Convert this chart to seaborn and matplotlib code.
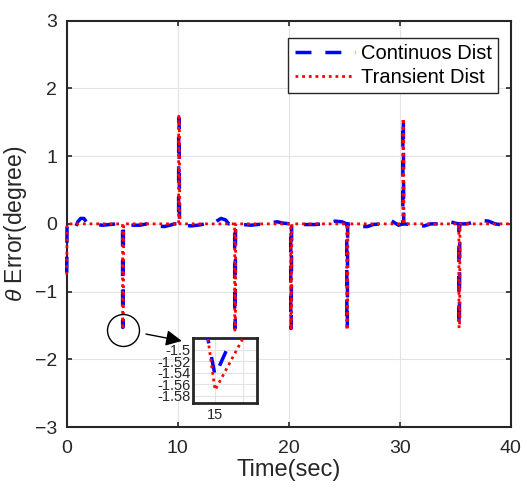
import matplotlib
matplotlib.use("Agg")
import matplotlib.pyplot as plt
import seaborn as sns
import numpy as np
import pandas as pd

# ---------------- data ----------------
t_cont = [0.0, 0.03, 0.5, 0.8, 1.0, 1.25, 1.55, 1.8, 2.2, 2.6, 3.2, 3.9, 4.5,
          5.03, 5.037, 5.05, 5.08, 5.11,
          5.4, 6.0, 6.6, 7.2, 7.9, 8.3, 8.8, 9.3, 9.7,
          10.08, 10.087, 10.10, 10.13, 10.16,
          10.5, 11.2, 11.8, 12.5, 13.1, 13.5, 13.9, 14.3, 14.6,
          15.13, 15.137, 15.15, 15.18, 15.21,
          15.9, 16.6, 17.2, 17.8, 18.4, 19.0, 19.5,
          20.18, 20.187, 20.20, 20.23, 20.26,
          20.9, 21.6, 22.4, 23.0, 23.6, 24.2, 24.8,
          25.23, 25.237, 25.25, 25.28, 25.31,
          26.0, 26.5, 27.1, 27.6, 28.3, 28.8, 29.2, 29.6, 29.9,
          30.28, 30.287, 30.30, 30.33, 30.36,
          30.9, 31.5, 32.2, 32.8, 33.5, 34.0, 34.6, 35.0,
          35.33, 35.337, 35.35, 35.38, 35.41,
          36.0, 36.9, 37.4, 38.0, 38.6, 39.4, 39.8, 40.0]
theta_cont = [-0.72, 0.0, -0.01, -0.05, 0.03, 0.08, 0.08, 0.02, 0.0, -0.01, -0.02, -0.01, 0.0,
              0.0, -1.46, -1.53, -1.46, 0.0,
              -0.02, -0.02, -0.02, 0.0, -0.01, -0.035, -0.04, -0.02, 0.0,
              0.0, 1.50, 1.565, 1.50, 0.0,
              -0.02, -0.03, -0.02, 0.0, -0.01, 0.04, 0.08, 0.06, 0.0,
              0.0, -1.48, -1.545, -1.48, 0.0,
              -0.01, -0.02, -0.01, 0.0, 0.02, 0.03, 0.01,
              0.0, -1.48, -1.545, -1.48, 0.0,
              -0.01, -0.01, -0.01, 0.0, 0.02, 0.04, 0.03,
              0.0, -1.48, -1.545, -1.48, 0.0,
              -0.01, -0.04, -0.04, -0.01, 0.0, 0.01, 0.05, 0.01, -0.02,
              0.0, 1.47, 1.535, 1.47, 0.0,
              -0.01, -0.03, -0.03, 0.0, 0.0, 0.02, 0.03, 0.01,
              0.0, -1.455, -1.52, -1.455, 0.0,
              0.0, 0.03, 0.05, 0.04, 0.0, -0.02, -0.03, -0.02]

t_trans = [0.0, 0.03,
           5.03, 5.037, 5.05, 5.10, 5.13,
           10.08, 10.087, 10.10, 10.15, 10.18,
           15.13, 15.137, 15.15, 15.20, 15.23,
           20.18, 20.187, 20.20, 20.25, 20.28,
           25.23, 25.237, 25.25, 25.30, 25.33,
           30.28, 30.287, 30.30, 30.35, 30.38,
           35.33, 35.337, 35.35, 35.40, 35.43,
           40.0]
theta_trans = [-0.75, 0.0,
               0.0, -1.47, -1.56, -1.47, 0.0,
               0.0, 1.50, 1.59, 1.50, 0.0,
               0.0, -1.48, -1.57, -1.48, 0.0,
               0.0, -1.48, -1.57, -1.48, 0.0,
               0.0, -1.48, -1.57, -1.48, 0.0,
               0.0, 1.47, 1.56, 1.47, 0.0,
               0.0, -1.45, -1.54, -1.45, 0.0,
               0.0]

series_labels = ["Continuos Dist", "Transient Dist"]
x_ticks = [0, 10, 20, 30, 40]
y_ticks = [-3, -2, -1, 0, 1, 2, 3]
inset_y_ticks = [-1.58, -1.56, -1.54, -1.52, -1.5]
inset_y_labels = ["-1.58", "-1.56", "-1.54", "-1.52", "-1.5"]
inset_x_ticks = [15.15, 15.2]
inset_x_labels = ["15", ""]

# ---------------- style ----------------
sns.set_theme(style="white")
plt.rcParams["font.family"] = ["Liberation Sans", "DejaVu Sans"]
plt.rcParams["mathtext.fontset"] = "custom"
plt.rcParams["mathtext.it"] = "Liberation Sans:italic"
plt.rcParams["mathtext.rm"] = "Liberation Sans"

AX_COL = "#262626"
GRID_COL = "#e3e3e3"

df_c = pd.DataFrame({"t": t_cont, "v": theta_cont})
df_t = pd.DataFrame({"t": t_trans, "v": theta_trans})

fig = plt.figure(figsize=(5.27, 4.92), dpi=100)
ax = fig.add_axes([0.1266, 0.1321, 0.8425, 0.8258])


def draw(a, clip=True, lwb=2.5, lwr=2.0):
    sns.lineplot(data=df_c, x="t", y="v", ax=a, sort=False, estimator=None,
                 color=(0, 0, 1), lw=lwb, label=series_labels[0])
    sns.lineplot(data=df_t, x="t", y="v", ax=a, sort=False, estimator=None,
                 color=(1, 0, 0), lw=lwr, label=series_labels[1])
    lines = a.get_lines()
    lines[-2].set_dashes((4.6, 4.0))
    lines[-1].set_dashes((1.0, 1.4))
    for ln in lines[-2:]:
        ln.set_dash_capstyle("butt")
        ln.set_clip_on(clip)
        ln.set_zorder(3)


draw(ax, clip=False)
ax.set_xlim(0, 40)
ax.set_ylim(-3, 3)
ax.set_xticks(x_ticks)
ax.set_yticks(y_ticks)
ax.grid(True, color=GRID_COL, lw=0.8)
ax.set_axisbelow(True)
for s in ax.spines.values():
    s.set_color(AX_COL)
    s.set_linewidth(1.5)
    s.set_visible(True)
    s.set_zorder(2.5)
ax.tick_params(direction="in", length=3.5, width=1.2, color=AX_COL,
               labelsize=14, labelcolor=AX_COL, pad=7,
               top=True, right=True, bottom=True, left=True)
ax.tick_params(axis="x", pad=9)
ax.set_xlabel("Time(sec)", fontsize=17, color=AX_COL, labelpad=2)
ax.set_ylabel(r"$\theta$ Error(degree)", fontsize=16.5, color=AX_COL, labelpad=4)

leg = ax.legend(loc="upper right", bbox_to_anchor=(0.9714, 0.9567), borderaxespad=0,
                fancybox=False, edgecolor=AX_COL, framealpha=1, fontsize=14.5,
                handlelength=3.0, handletextpad=0.3, labelspacing=0.25,
                borderpad=0.3)
leg.get_frame().set_linewidth(1.0)
leg.set_zorder(6)
for txt in leg.get_texts():
    txt.set_color("black")

# circle around the t=5 spike minimum
i_min = int(np.argmin(theta_trans[:8]))
ax.plot([t_trans[i_min] + 0.03], [theta_trans[i_min] - 0.01], marker="o", ms=23,
        mfc="none", mec="black", mew=1.0, zorder=5)

# arrow to the inset
ax.annotate("", xy=(0.345, 0.307), xycoords="figure fraction",
            xytext=(0.277, 0.321), textcoords="figure fraction",
            arrowprops=dict(arrowstyle="-|>", color="black", lw=1.0,
                            mutation_scale=24, shrinkA=0, shrinkB=0),
            annotation_clip=False)

# ---------------- inset ----------------
ins = fig.add_axes([0.3657, 0.1815, 0.122, 0.131])
draw(ins, clip=True)
if ins.get_legend():
    ins.get_legend().remove()
ins.set_xlim(15.110, 15.225)
ins.set_ylim(-1.592, -1.480)
ins.set_xticks(inset_x_ticks)
ins.set_xticklabels(inset_x_labels)
ins.set_yticks(inset_y_ticks)
ins.set_yticklabels(inset_y_labels)
ins.grid(True, color=GRID_COL, lw=0.8)
ins.set_xlabel("")
ins.set_ylabel("")
for s in ins.spines.values():
    s.set_color(AX_COL)
    s.set_linewidth(2.0)
    s.set_visible(True)
ins.tick_params(direction="in", length=0, labelsize=10.5, labelcolor=AX_COL, pad=1.5)
ins.tick_params(axis="x", pad=4)

fig.savefig("out.png", dpi=100)
